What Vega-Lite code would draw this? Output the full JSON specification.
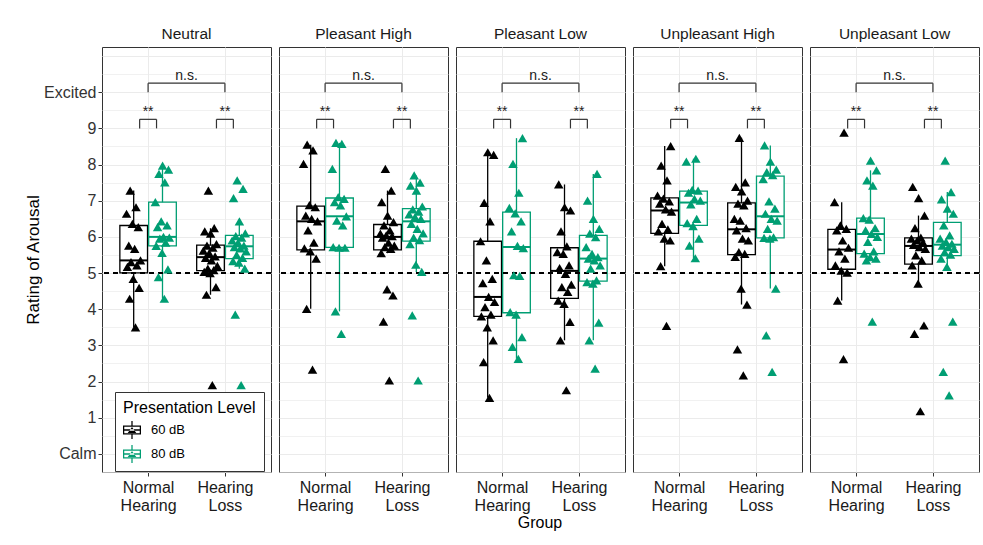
{
  "$schema": "https://vega.github.io/schema/vega-lite/v6.json",
  "padding": {"left": 24, "top": 26, "right": 3, "bottom": 5},
  "background": "white",
  "bounds": "flush",
  "data": {"values": [
    {"cond":"Neutral","group":"NH","level":"60 dB","rating":3.5},{"cond":"Neutral","group":"NH","level":"60 dB","rating":4.29},{"cond":"Neutral","group":"NH","level":"60 dB","rating":4.59},{"cond":"Neutral","group":"NH","level":"60 dB","rating":4.84},{"cond":"Neutral","group":"NH","level":"60 dB","rating":5.17},{"cond":"Neutral","group":"NH","level":"60 dB","rating":5.21},{"cond":"Neutral","group":"NH","level":"60 dB","rating":5.3},{"cond":"Neutral","group":"NH","level":"60 dB","rating":5.35},{"cond":"Neutral","group":"NH","level":"60 dB","rating":5.67},{"cond":"Neutral","group":"NH","level":"60 dB","rating":5.76},{"cond":"Neutral","group":"NH","level":"60 dB","rating":6.27},{"cond":"Neutral","group":"NH","level":"60 dB","rating":6.36},{"cond":"Neutral","group":"NH","level":"60 dB","rating":6.64},{"cond":"Neutral","group":"NH","level":"60 dB","rating":6.82},{"cond":"Neutral","group":"NH","level":"60 dB","rating":7.28},
    {"cond":"Neutral","group":"NH","level":"80 dB","rating":4.29},{"cond":"Neutral","group":"NH","level":"80 dB","rating":4.89},{"cond":"Neutral","group":"NH","level":"80 dB","rating":5.1},{"cond":"Neutral","group":"NH","level":"80 dB","rating":5.56},{"cond":"Neutral","group":"NH","level":"80 dB","rating":5.75},{"cond":"Neutral","group":"NH","level":"80 dB","rating":5.84},{"cond":"Neutral","group":"NH","level":"80 dB","rating":5.95},{"cond":"Neutral","group":"NH","level":"80 dB","rating":5.98},{"cond":"Neutral","group":"NH","level":"80 dB","rating":6.0},{"cond":"Neutral","group":"NH","level":"80 dB","rating":6.27},{"cond":"Neutral","group":"NH","level":"80 dB","rating":6.32},{"cond":"Neutral","group":"NH","level":"80 dB","rating":6.43},{"cond":"Neutral","group":"NH","level":"80 dB","rating":6.96},{"cond":"Neutral","group":"NH","level":"80 dB","rating":7.51},{"cond":"Neutral","group":"NH","level":"80 dB","rating":7.74},{"cond":"Neutral","group":"NH","level":"80 dB","rating":7.86},{"cond":"Neutral","group":"NH","level":"80 dB","rating":7.97},
    {"cond":"Neutral","group":"HL","level":"60 dB","rating":1.9},{"cond":"Neutral","group":"HL","level":"60 dB","rating":4.4},{"cond":"Neutral","group":"HL","level":"60 dB","rating":4.61},{"cond":"Neutral","group":"HL","level":"60 dB","rating":5.0},{"cond":"Neutral","group":"HL","level":"60 dB","rating":5.03},{"cond":"Neutral","group":"HL","level":"60 dB","rating":5.08},{"cond":"Neutral","group":"HL","level":"60 dB","rating":5.12},{"cond":"Neutral","group":"HL","level":"60 dB","rating":5.2},{"cond":"Neutral","group":"HL","level":"60 dB","rating":5.35},{"cond":"Neutral","group":"HL","level":"60 dB","rating":5.42},{"cond":"Neutral","group":"HL","level":"60 dB","rating":5.46},{"cond":"Neutral","group":"HL","level":"60 dB","rating":5.55},{"cond":"Neutral","group":"HL","level":"60 dB","rating":5.62},{"cond":"Neutral","group":"HL","level":"60 dB","rating":5.7},{"cond":"Neutral","group":"HL","level":"60 dB","rating":5.76},{"cond":"Neutral","group":"HL","level":"60 dB","rating":5.8},{"cond":"Neutral","group":"HL","level":"60 dB","rating":6.09},{"cond":"Neutral","group":"HL","level":"60 dB","rating":6.15},{"cond":"Neutral","group":"HL","level":"60 dB","rating":6.24},{"cond":"Neutral","group":"HL","level":"60 dB","rating":7.28},
    {"cond":"Neutral","group":"HL","level":"80 dB","rating":1.9},{"cond":"Neutral","group":"HL","level":"80 dB","rating":3.85},{"cond":"Neutral","group":"HL","level":"80 dB","rating":5.12},{"cond":"Neutral","group":"HL","level":"80 dB","rating":5.29},{"cond":"Neutral","group":"HL","level":"80 dB","rating":5.33},{"cond":"Neutral","group":"HL","level":"80 dB","rating":5.42},{"cond":"Neutral","group":"HL","level":"80 dB","rating":5.5},{"cond":"Neutral","group":"HL","level":"80 dB","rating":5.6},{"cond":"Neutral","group":"HL","level":"80 dB","rating":5.68},{"cond":"Neutral","group":"HL","level":"80 dB","rating":5.72},{"cond":"Neutral","group":"HL","level":"80 dB","rating":5.76},{"cond":"Neutral","group":"HL","level":"80 dB","rating":5.84},{"cond":"Neutral","group":"HL","level":"80 dB","rating":5.9},{"cond":"Neutral","group":"HL","level":"80 dB","rating":5.98},{"cond":"Neutral","group":"HL","level":"80 dB","rating":6.02},{"cond":"Neutral","group":"HL","level":"80 dB","rating":6.1},{"cond":"Neutral","group":"HL","level":"80 dB","rating":6.43},{"cond":"Neutral","group":"HL","level":"80 dB","rating":7.07},{"cond":"Neutral","group":"HL","level":"80 dB","rating":7.33},{"cond":"Neutral","group":"HL","level":"80 dB","rating":7.56},

    {"cond":"Pleasant High","group":"NH","level":"60 dB","rating":2.33},{"cond":"Pleasant High","group":"NH","level":"60 dB","rating":4.01},{"cond":"Pleasant High","group":"NH","level":"60 dB","rating":5.4},{"cond":"Pleasant High","group":"NH","level":"60 dB","rating":5.6},{"cond":"Pleasant High","group":"NH","level":"60 dB","rating":5.68},{"cond":"Pleasant High","group":"NH","level":"60 dB","rating":5.84},{"cond":"Pleasant High","group":"NH","level":"60 dB","rating":6.18},{"cond":"Pleasant High","group":"NH","level":"60 dB","rating":6.43},{"cond":"Pleasant High","group":"NH","level":"60 dB","rating":6.5},{"cond":"Pleasant High","group":"NH","level":"60 dB","rating":6.59},{"cond":"Pleasant High","group":"NH","level":"60 dB","rating":6.82},{"cond":"Pleasant High","group":"NH","level":"60 dB","rating":6.88},{"cond":"Pleasant High","group":"NH","level":"60 dB","rating":8.02},{"cond":"Pleasant High","group":"NH","level":"60 dB","rating":8.39},{"cond":"Pleasant High","group":"NH","level":"60 dB","rating":8.55},
    {"cond":"Pleasant High","group":"NH","level":"80 dB","rating":3.32},{"cond":"Pleasant High","group":"NH","level":"80 dB","rating":3.94},{"cond":"Pleasant High","group":"NH","level":"80 dB","rating":5.7},{"cond":"Pleasant High","group":"NH","level":"80 dB","rating":5.7},{"cond":"Pleasant High","group":"NH","level":"80 dB","rating":5.72},{"cond":"Pleasant High","group":"NH","level":"80 dB","rating":6.32},{"cond":"Pleasant High","group":"NH","level":"80 dB","rating":6.45},{"cond":"Pleasant High","group":"NH","level":"80 dB","rating":6.57},{"cond":"Pleasant High","group":"NH","level":"80 dB","rating":6.87},{"cond":"Pleasant High","group":"NH","level":"80 dB","rating":6.96},{"cond":"Pleasant High","group":"NH","level":"80 dB","rating":7.05},{"cond":"Pleasant High","group":"NH","level":"80 dB","rating":7.1},{"cond":"Pleasant High","group":"NH","level":"80 dB","rating":7.88},{"cond":"Pleasant High","group":"NH","level":"80 dB","rating":8.57},{"cond":"Pleasant High","group":"NH","level":"80 dB","rating":8.6},
    {"cond":"Pleasant High","group":"HL","level":"60 dB","rating":2.03},{"cond":"Pleasant High","group":"HL","level":"60 dB","rating":3.66},{"cond":"Pleasant High","group":"HL","level":"60 dB","rating":4.38},{"cond":"Pleasant High","group":"HL","level":"60 dB","rating":4.55},{"cond":"Pleasant High","group":"HL","level":"60 dB","rating":5.55},{"cond":"Pleasant High","group":"HL","level":"60 dB","rating":5.67},{"cond":"Pleasant High","group":"HL","level":"60 dB","rating":5.72},{"cond":"Pleasant High","group":"HL","level":"60 dB","rating":5.76},{"cond":"Pleasant High","group":"HL","level":"60 dB","rating":5.84},{"cond":"Pleasant High","group":"HL","level":"60 dB","rating":5.98},{"cond":"Pleasant High","group":"HL","level":"60 dB","rating":6.02},{"cond":"Pleasant High","group":"HL","level":"60 dB","rating":6.04},{"cond":"Pleasant High","group":"HL","level":"60 dB","rating":6.09},{"cond":"Pleasant High","group":"HL","level":"60 dB","rating":6.18},{"cond":"Pleasant High","group":"HL","level":"60 dB","rating":6.32},{"cond":"Pleasant High","group":"HL","level":"60 dB","rating":6.41},{"cond":"Pleasant High","group":"HL","level":"60 dB","rating":6.59},{"cond":"Pleasant High","group":"HL","level":"60 dB","rating":6.96},{"cond":"Pleasant High","group":"HL","level":"60 dB","rating":7.28},{"cond":"Pleasant High","group":"HL","level":"60 dB","rating":7.88},
    {"cond":"Pleasant High","group":"HL","level":"80 dB","rating":2.03},{"cond":"Pleasant High","group":"HL","level":"80 dB","rating":3.83},{"cond":"Pleasant High","group":"HL","level":"80 dB","rating":5.03},{"cond":"Pleasant High","group":"HL","level":"80 dB","rating":5.23},{"cond":"Pleasant High","group":"HL","level":"80 dB","rating":5.8},{"cond":"Pleasant High","group":"HL","level":"80 dB","rating":5.91},{"cond":"Pleasant High","group":"HL","level":"80 dB","rating":5.98},{"cond":"Pleasant High","group":"HL","level":"80 dB","rating":6.1},{"cond":"Pleasant High","group":"HL","level":"80 dB","rating":6.22},{"cond":"Pleasant High","group":"HL","level":"80 dB","rating":6.36},{"cond":"Pleasant High","group":"HL","level":"80 dB","rating":6.5},{"cond":"Pleasant High","group":"HL","level":"80 dB","rating":6.55},{"cond":"Pleasant High","group":"HL","level":"80 dB","rating":6.62},{"cond":"Pleasant High","group":"HL","level":"80 dB","rating":6.7},{"cond":"Pleasant High","group":"HL","level":"80 dB","rating":6.76},{"cond":"Pleasant High","group":"HL","level":"80 dB","rating":6.84},{"cond":"Pleasant High","group":"HL","level":"80 dB","rating":7.28},{"cond":"Pleasant High","group":"HL","level":"80 dB","rating":7.42},{"cond":"Pleasant High","group":"HL","level":"80 dB","rating":7.5},{"cond":"Pleasant High","group":"HL","level":"80 dB","rating":7.7},

    {"cond":"Pleasant Low","group":"NH","level":"60 dB","rating":1.55},{"cond":"Pleasant Low","group":"NH","level":"60 dB","rating":2.54},{"cond":"Pleasant Low","group":"NH","level":"60 dB","rating":3.14},{"cond":"Pleasant Low","group":"NH","level":"60 dB","rating":3.5},{"cond":"Pleasant Low","group":"NH","level":"60 dB","rating":3.8},{"cond":"Pleasant Low","group":"NH","level":"60 dB","rating":3.85},{"cond":"Pleasant Low","group":"NH","level":"60 dB","rating":4.06},{"cond":"Pleasant Low","group":"NH","level":"60 dB","rating":4.2},{"cond":"Pleasant Low","group":"NH","level":"60 dB","rating":4.34},{"cond":"Pleasant Low","group":"NH","level":"60 dB","rating":4.72},{"cond":"Pleasant Low","group":"NH","level":"60 dB","rating":4.84},{"cond":"Pleasant Low","group":"NH","level":"60 dB","rating":5.35},{"cond":"Pleasant Low","group":"NH","level":"60 dB","rating":5.88},{"cond":"Pleasant Low","group":"NH","level":"60 dB","rating":6.43},{"cond":"Pleasant Low","group":"NH","level":"60 dB","rating":6.94},{"cond":"Pleasant Low","group":"NH","level":"60 dB","rating":8.27},{"cond":"Pleasant Low","group":"NH","level":"60 dB","rating":8.34},
    {"cond":"Pleasant Low","group":"NH","level":"80 dB","rating":2.63},{"cond":"Pleasant Low","group":"NH","level":"80 dB","rating":2.96},{"cond":"Pleasant Low","group":"NH","level":"80 dB","rating":3.23},{"cond":"Pleasant Low","group":"NH","level":"80 dB","rating":3.85},{"cond":"Pleasant Low","group":"NH","level":"80 dB","rating":3.92},{"cond":"Pleasant Low","group":"NH","level":"80 dB","rating":4.92},{"cond":"Pleasant Low","group":"NH","level":"80 dB","rating":4.94},{"cond":"Pleasant Low","group":"NH","level":"80 dB","rating":5.69},{"cond":"Pleasant Low","group":"NH","level":"80 dB","rating":5.75},{"cond":"Pleasant Low","group":"NH","level":"80 dB","rating":6.15},{"cond":"Pleasant Low","group":"NH","level":"80 dB","rating":6.43},{"cond":"Pleasant Low","group":"NH","level":"80 dB","rating":6.65},{"cond":"Pleasant Low","group":"NH","level":"80 dB","rating":6.8},{"cond":"Pleasant Low","group":"NH","level":"80 dB","rating":7.22},{"cond":"Pleasant Low","group":"NH","level":"80 dB","rating":8.02},{"cond":"Pleasant Low","group":"NH","level":"80 dB","rating":8.73},
    {"cond":"Pleasant Low","group":"HL","level":"60 dB","rating":1.76},{"cond":"Pleasant Low","group":"HL","level":"60 dB","rating":3.14},{"cond":"Pleasant Low","group":"HL","level":"60 dB","rating":3.65},{"cond":"Pleasant Low","group":"HL","level":"60 dB","rating":4.15},{"cond":"Pleasant Low","group":"HL","level":"60 dB","rating":4.24},{"cond":"Pleasant Low","group":"HL","level":"60 dB","rating":4.48},{"cond":"Pleasant Low","group":"HL","level":"60 dB","rating":4.61},{"cond":"Pleasant Low","group":"HL","level":"60 dB","rating":4.68},{"cond":"Pleasant Low","group":"HL","level":"60 dB","rating":4.98},{"cond":"Pleasant Low","group":"HL","level":"60 dB","rating":5.14},{"cond":"Pleasant Low","group":"HL","level":"60 dB","rating":5.21},{"cond":"Pleasant Low","group":"HL","level":"60 dB","rating":5.53},{"cond":"Pleasant Low","group":"HL","level":"60 dB","rating":5.58},{"cond":"Pleasant Low","group":"HL","level":"60 dB","rating":5.74},{"cond":"Pleasant Low","group":"HL","level":"60 dB","rating":6.15},{"cond":"Pleasant Low","group":"HL","level":"60 dB","rating":6.73},{"cond":"Pleasant Low","group":"HL","level":"60 dB","rating":6.82},{"cond":"Pleasant Low","group":"HL","level":"60 dB","rating":7.45},
    {"cond":"Pleasant Low","group":"HL","level":"80 dB","rating":2.36},{"cond":"Pleasant Low","group":"HL","level":"80 dB","rating":3.14},{"cond":"Pleasant Low","group":"HL","level":"80 dB","rating":3.63},{"cond":"Pleasant Low","group":"HL","level":"80 dB","rating":4.71},{"cond":"Pleasant Low","group":"HL","level":"80 dB","rating":4.75},{"cond":"Pleasant Low","group":"HL","level":"80 dB","rating":4.8},{"cond":"Pleasant Low","group":"HL","level":"80 dB","rating":5.12},{"cond":"Pleasant Low","group":"HL","level":"80 dB","rating":5.21},{"cond":"Pleasant Low","group":"HL","level":"80 dB","rating":5.35},{"cond":"Pleasant Low","group":"HL","level":"80 dB","rating":5.4},{"cond":"Pleasant Low","group":"HL","level":"80 dB","rating":5.44},{"cond":"Pleasant Low","group":"HL","level":"80 dB","rating":5.53},{"cond":"Pleasant Low","group":"HL","level":"80 dB","rating":5.72},{"cond":"Pleasant Low","group":"HL","level":"80 dB","rating":5.99},{"cond":"Pleasant Low","group":"HL","level":"80 dB","rating":6.09},{"cond":"Pleasant Low","group":"HL","level":"80 dB","rating":6.22},{"cond":"Pleasant Low","group":"HL","level":"80 dB","rating":6.5},{"cond":"Pleasant Low","group":"HL","level":"80 dB","rating":7.0},{"cond":"Pleasant Low","group":"HL","level":"80 dB","rating":7.74},

    {"cond":"Unpleasant High","group":"NH","level":"60 dB","rating":3.54},{"cond":"Unpleasant High","group":"NH","level":"60 dB","rating":5.19},{"cond":"Unpleasant High","group":"NH","level":"60 dB","rating":5.9},{"cond":"Unpleasant High","group":"NH","level":"60 dB","rating":5.95},{"cond":"Unpleasant High","group":"NH","level":"60 dB","rating":6.15},{"cond":"Unpleasant High","group":"NH","level":"60 dB","rating":6.21},{"cond":"Unpleasant High","group":"NH","level":"60 dB","rating":6.36},{"cond":"Unpleasant High","group":"NH","level":"60 dB","rating":6.7},{"cond":"Unpleasant High","group":"NH","level":"60 dB","rating":6.76},{"cond":"Unpleasant High","group":"NH","level":"60 dB","rating":6.92},{"cond":"Unpleasant High","group":"NH","level":"60 dB","rating":6.98},{"cond":"Unpleasant High","group":"NH","level":"60 dB","rating":7.06},{"cond":"Unpleasant High","group":"NH","level":"60 dB","rating":7.14},{"cond":"Unpleasant High","group":"NH","level":"60 dB","rating":7.56},{"cond":"Unpleasant High","group":"NH","level":"60 dB","rating":7.97},{"cond":"Unpleasant High","group":"NH","level":"60 dB","rating":8.51},
    {"cond":"Unpleasant High","group":"NH","level":"80 dB","rating":5.41},{"cond":"Unpleasant High","group":"NH","level":"80 dB","rating":5.76},{"cond":"Unpleasant High","group":"NH","level":"80 dB","rating":5.95},{"cond":"Unpleasant High","group":"NH","level":"80 dB","rating":6.3},{"cond":"Unpleasant High","group":"NH","level":"80 dB","rating":6.38},{"cond":"Unpleasant High","group":"NH","level":"80 dB","rating":6.5},{"cond":"Unpleasant High","group":"NH","level":"80 dB","rating":6.9},{"cond":"Unpleasant High","group":"NH","level":"80 dB","rating":7.0},{"cond":"Unpleasant High","group":"NH","level":"80 dB","rating":7.05},{"cond":"Unpleasant High","group":"NH","level":"80 dB","rating":7.22},{"cond":"Unpleasant High","group":"NH","level":"80 dB","rating":7.28},{"cond":"Unpleasant High","group":"NH","level":"80 dB","rating":7.3},{"cond":"Unpleasant High","group":"NH","level":"80 dB","rating":8.08},{"cond":"Unpleasant High","group":"NH","level":"80 dB","rating":8.16},
    {"cond":"Unpleasant High","group":"HL","level":"60 dB","rating":2.17},{"cond":"Unpleasant High","group":"HL","level":"60 dB","rating":2.89},{"cond":"Unpleasant High","group":"HL","level":"60 dB","rating":4.13},{"cond":"Unpleasant High","group":"HL","level":"60 dB","rating":4.57},{"cond":"Unpleasant High","group":"HL","level":"60 dB","rating":5.45},{"cond":"Unpleasant High","group":"HL","level":"60 dB","rating":5.53},{"cond":"Unpleasant High","group":"HL","level":"60 dB","rating":5.58},{"cond":"Unpleasant High","group":"HL","level":"60 dB","rating":5.9},{"cond":"Unpleasant High","group":"HL","level":"60 dB","rating":5.95},{"cond":"Unpleasant High","group":"HL","level":"60 dB","rating":6.18},{"cond":"Unpleasant High","group":"HL","level":"60 dB","rating":6.24},{"cond":"Unpleasant High","group":"HL","level":"60 dB","rating":6.45},{"cond":"Unpleasant High","group":"HL","level":"60 dB","rating":6.5},{"cond":"Unpleasant High","group":"HL","level":"60 dB","rating":6.87},{"cond":"Unpleasant High","group":"HL","level":"60 dB","rating":6.92},{"cond":"Unpleasant High","group":"HL","level":"60 dB","rating":7.0},{"cond":"Unpleasant High","group":"HL","level":"60 dB","rating":7.26},{"cond":"Unpleasant High","group":"HL","level":"60 dB","rating":7.38},{"cond":"Unpleasant High","group":"HL","level":"60 dB","rating":7.51},{"cond":"Unpleasant High","group":"HL","level":"60 dB","rating":8.74},
    {"cond":"Unpleasant High","group":"HL","level":"80 dB","rating":2.27},{"cond":"Unpleasant High","group":"HL","level":"80 dB","rating":3.28},{"cond":"Unpleasant High","group":"HL","level":"80 dB","rating":4.57},{"cond":"Unpleasant High","group":"HL","level":"80 dB","rating":5.95},{"cond":"Unpleasant High","group":"HL","level":"80 dB","rating":5.97},{"cond":"Unpleasant High","group":"HL","level":"80 dB","rating":5.99},{"cond":"Unpleasant High","group":"HL","level":"80 dB","rating":6.22},{"cond":"Unpleasant High","group":"HL","level":"80 dB","rating":6.45},{"cond":"Unpleasant High","group":"HL","level":"80 dB","rating":6.5},{"cond":"Unpleasant High","group":"HL","level":"80 dB","rating":6.64},{"cond":"Unpleasant High","group":"HL","level":"80 dB","rating":6.78},{"cond":"Unpleasant High","group":"HL","level":"80 dB","rating":6.98},{"cond":"Unpleasant High","group":"HL","level":"80 dB","rating":7.6},{"cond":"Unpleasant High","group":"HL","level":"80 dB","rating":7.71},{"cond":"Unpleasant High","group":"HL","level":"80 dB","rating":7.79},{"cond":"Unpleasant High","group":"HL","level":"80 dB","rating":7.86},{"cond":"Unpleasant High","group":"HL","level":"80 dB","rating":8.08},{"cond":"Unpleasant High","group":"HL","level":"80 dB","rating":8.53},

    {"cond":"Unpleasant Low","group":"NH","level":"60 dB","rating":2.62},{"cond":"Unpleasant Low","group":"NH","level":"60 dB","rating":4.24},{"cond":"Unpleasant Low","group":"NH","level":"60 dB","rating":5.01},{"cond":"Unpleasant Low","group":"NH","level":"60 dB","rating":5.07},{"cond":"Unpleasant Low","group":"NH","level":"60 dB","rating":5.21},{"cond":"Unpleasant Low","group":"NH","level":"60 dB","rating":5.4},{"cond":"Unpleasant Low","group":"NH","level":"60 dB","rating":5.6},{"cond":"Unpleasant Low","group":"NH","level":"60 dB","rating":5.7},{"cond":"Unpleasant Low","group":"NH","level":"60 dB","rating":5.9},{"cond":"Unpleasant Low","group":"NH","level":"60 dB","rating":6.18},{"cond":"Unpleasant Low","group":"NH","level":"60 dB","rating":6.22},{"cond":"Unpleasant Low","group":"NH","level":"60 dB","rating":6.32},{"cond":"Unpleasant Low","group":"NH","level":"60 dB","rating":6.96},{"cond":"Unpleasant Low","group":"NH","level":"60 dB","rating":8.88},
    {"cond":"Unpleasant Low","group":"NH","level":"80 dB","rating":3.66},{"cond":"Unpleasant Low","group":"NH","level":"80 dB","rating":5.35},{"cond":"Unpleasant Low","group":"NH","level":"80 dB","rating":5.4},{"cond":"Unpleasant Low","group":"NH","level":"80 dB","rating":5.44},{"cond":"Unpleasant Low","group":"NH","level":"80 dB","rating":5.54},{"cond":"Unpleasant Low","group":"NH","level":"80 dB","rating":5.6},{"cond":"Unpleasant Low","group":"NH","level":"80 dB","rating":5.86},{"cond":"Unpleasant Low","group":"NH","level":"80 dB","rating":6.0},{"cond":"Unpleasant Low","group":"NH","level":"80 dB","rating":6.08},{"cond":"Unpleasant Low","group":"NH","level":"80 dB","rating":6.18},{"cond":"Unpleasant Low","group":"NH","level":"80 dB","rating":6.24},{"cond":"Unpleasant Low","group":"NH","level":"80 dB","rating":6.48},{"cond":"Unpleasant Low","group":"NH","level":"80 dB","rating":6.52},{"cond":"Unpleasant Low","group":"NH","level":"80 dB","rating":7.42},{"cond":"Unpleasant Low","group":"NH","level":"80 dB","rating":7.56},{"cond":"Unpleasant Low","group":"NH","level":"80 dB","rating":7.84},{"cond":"Unpleasant Low","group":"NH","level":"80 dB","rating":8.11},
    {"cond":"Unpleasant Low","group":"HL","level":"60 dB","rating":1.18},{"cond":"Unpleasant Low","group":"HL","level":"60 dB","rating":3.32},{"cond":"Unpleasant Low","group":"HL","level":"60 dB","rating":3.55},{"cond":"Unpleasant Low","group":"HL","level":"60 dB","rating":4.71},{"cond":"Unpleasant Low","group":"HL","level":"60 dB","rating":5.21},{"cond":"Unpleasant Low","group":"HL","level":"60 dB","rating":5.35},{"cond":"Unpleasant Low","group":"HL","level":"60 dB","rating":5.49},{"cond":"Unpleasant Low","group":"HL","level":"60 dB","rating":5.67},{"cond":"Unpleasant Low","group":"HL","level":"60 dB","rating":5.72},{"cond":"Unpleasant Low","group":"HL","level":"60 dB","rating":5.78},{"cond":"Unpleasant Low","group":"HL","level":"60 dB","rating":5.84},{"cond":"Unpleasant Low","group":"HL","level":"60 dB","rating":5.9},{"cond":"Unpleasant Low","group":"HL","level":"60 dB","rating":5.95},{"cond":"Unpleasant Low","group":"HL","level":"60 dB","rating":5.98},{"cond":"Unpleasant Low","group":"HL","level":"60 dB","rating":6.24},{"cond":"Unpleasant Low","group":"HL","level":"60 dB","rating":6.59},{"cond":"Unpleasant Low","group":"HL","level":"60 dB","rating":7.07},{"cond":"Unpleasant Low","group":"HL","level":"60 dB","rating":7.38},
    {"cond":"Unpleasant Low","group":"HL","level":"80 dB","rating":1.62},{"cond":"Unpleasant Low","group":"HL","level":"80 dB","rating":2.27},{"cond":"Unpleasant Low","group":"HL","level":"80 dB","rating":3.66},{"cond":"Unpleasant Low","group":"HL","level":"80 dB","rating":5.17},{"cond":"Unpleasant Low","group":"HL","level":"80 dB","rating":5.4},{"cond":"Unpleasant Low","group":"HL","level":"80 dB","rating":5.51},{"cond":"Unpleasant Low","group":"HL","level":"80 dB","rating":5.58},{"cond":"Unpleasant Low","group":"HL","level":"80 dB","rating":5.67},{"cond":"Unpleasant Low","group":"HL","level":"80 dB","rating":5.72},{"cond":"Unpleasant Low","group":"HL","level":"80 dB","rating":5.76},{"cond":"Unpleasant Low","group":"HL","level":"80 dB","rating":5.81},{"cond":"Unpleasant Low","group":"HL","level":"80 dB","rating":5.86},{"cond":"Unpleasant Low","group":"HL","level":"80 dB","rating":5.95},{"cond":"Unpleasant Low","group":"HL","level":"80 dB","rating":6.04},{"cond":"Unpleasant Low","group":"HL","level":"80 dB","rating":6.32},{"cond":"Unpleasant Low","group":"HL","level":"80 dB","rating":6.64},{"cond":"Unpleasant Low","group":"HL","level":"80 dB","rating":6.78},{"cond":"Unpleasant Low","group":"HL","level":"80 dB","rating":7.04},{"cond":"Unpleasant Low","group":"HL","level":"80 dB","rating":7.24},{"cond":"Unpleasant Low","group":"HL","level":"80 dB","rating":8.11},

    {"cond":"Neutral","kind":"bracket","x1":0.89,"x2":1.11,"ytop":9.25,"yend":9.0,"label":"**"},
    {"cond":"Neutral","kind":"bracket","x1":1.89,"x2":2.11,"ytop":9.25,"yend":9.0,"label":"**"},
    {"cond":"Neutral","kind":"bracket","x1":1,"x2":2,"ytop":10.25,"yend":10.0,"label":"n.s."},
    {"cond":"Pleasant High","kind":"bracket","x1":0.89,"x2":1.11,"ytop":9.25,"yend":9.0,"label":"**"},
    {"cond":"Pleasant High","kind":"bracket","x1":1.89,"x2":2.11,"ytop":9.25,"yend":9.0,"label":"**"},
    {"cond":"Pleasant High","kind":"bracket","x1":1,"x2":2,"ytop":10.25,"yend":10.0,"label":"n.s."},
    {"cond":"Pleasant Low","kind":"bracket","x1":0.89,"x2":1.11,"ytop":9.25,"yend":9.0,"label":"**"},
    {"cond":"Pleasant Low","kind":"bracket","x1":1.89,"x2":2.11,"ytop":9.25,"yend":9.0,"label":"**"},
    {"cond":"Pleasant Low","kind":"bracket","x1":1,"x2":2,"ytop":10.25,"yend":10.0,"label":"n.s."},
    {"cond":"Unpleasant High","kind":"bracket","x1":0.89,"x2":1.11,"ytop":9.25,"yend":9.0,"label":"**"},
    {"cond":"Unpleasant High","kind":"bracket","x1":1.89,"x2":2.11,"ytop":9.25,"yend":9.0,"label":"**"},
    {"cond":"Unpleasant High","kind":"bracket","x1":1,"x2":2,"ytop":10.25,"yend":10.0,"label":"n.s."},
    {"cond":"Unpleasant Low","kind":"bracket","x1":0.89,"x2":1.11,"ytop":9.25,"yend":9.0,"label":"**"},
    {"cond":"Unpleasant Low","kind":"bracket","x1":1.89,"x2":2.11,"ytop":9.25,"yend":9.0,"label":"**"},
    {"cond":"Unpleasant Low","kind":"bracket","x1":1,"x2":2,"ytop":10.25,"yend":10.0,"label":"n.s."}
  ]},
  "transform": [
    {"calculate": "(datum.group === 'NH' ? 1 : 2) + (datum.level === '60 dB' ? -0.1875 : 0.1875)", "as": "center"}
  ],
  "facet": {
    "column": {
      "field": "cond", "type": "nominal", "title": "Group",
      "sort": ["Neutral", "Pleasant High", "Pleasant Low", "Unpleasant High", "Unpleasant Low"],
      "header": {
        "labelOrient": "top", "titleOrient": "bottom",
        "labelFont": "Liberation Sans", "labelFontSize": 15.5, "labelColor": "#1a1a1a", "labelPadding": 5,
        "titleFont": "Liberation Sans", "titleFontSize": 16, "titleFontWeight": "normal", "titleColor": "#000000", "titlePadding": -8
      }
    }
  },
  "spacing": 8,
  "spec": {
    "width": 169,
    "height": 425,
    "layer": [
      {
        "transform": [
          {"filter": "!datum.kind"},
          {"joinaggregate": [{"op": "q1", "field": "rating", "as": "q1"}, {"op": "q3", "field": "rating", "as": "q3"}], "groupby": ["cond", "group", "level"]},
          {"filter": "datum.rating >= datum.q1 - 1.5 * (datum.q3 - datum.q1) && datum.rating <= datum.q3 + 1.5 * (datum.q3 - datum.q1)"},
          {"aggregate": [{"op": "min", "field": "rating", "as": "lo"}, {"op": "max", "field": "rating", "as": "hi"}], "groupby": ["cond", "group", "level", "center"]}
        ],
        "mark": {"type": "rule", "strokeWidth": 1.3},
        "encoding": {
          "x": {"field": "center", "type": "quantitative", "title": null,
                "scale": {"domain": [0.4, 2.6], "nice": false, "zero": false},
                "axis": {"values": [1, 2], "labelExpr": "datum.value == 1 ? ['Normal', 'Hearing'] : ['Hearing', 'Loss']"}},
          "y": {"field": "lo", "type": "quantitative", "title": "Rating of Arousal",
                "scale": {"domain": [-0.5, 11.25], "nice": false, "zero": false}},
          "y2": {"field": "hi"},
          "color": {"field": "level", "type": "nominal", "scale": {"domain": ["60 dB", "80 dB"], "range": ["#000000", "#009E73"]}}
        }
      },
      {
        "transform": [
          {"filter": "!datum.kind"},
          {"aggregate": [{"op": "q1", "field": "rating", "as": "q1"}, {"op": "q3", "field": "rating", "as": "q3"}], "groupby": ["cond", "group", "level", "center"]},
          {"calculate": "datum.center - 0.18", "as": "xl"},
          {"calculate": "datum.center + 0.18", "as": "xr"}
        ],
        "mark": {"type": "rect", "filled": false, "fill": "white", "strokeWidth": 1.3},
        "encoding": {
          "x": {"field": "xl", "type": "quantitative", "title": null, "scale": {"domain": [0.4, 2.6], "nice": false, "zero": false}},
          "x2": {"field": "xr"},
          "y": {"field": "q1", "type": "quantitative", "title": "Rating of Arousal", "scale": {"domain": [-0.5, 11.25], "nice": false, "zero": false}},
          "y2": {"field": "q3"},
          "color": {"field": "level", "type": "nominal", "scale": {"domain": ["60 dB", "80 dB"], "range": ["#000000", "#009E73"]}}
        }
      },
      {
        "transform": [
          {"filter": "!datum.kind"},
          {"aggregate": [{"op": "median", "field": "rating", "as": "med"}], "groupby": ["cond", "group", "level", "center"]},
          {"calculate": "datum.center - 0.18", "as": "xl"},
          {"calculate": "datum.center + 0.18", "as": "xr"}
        ],
        "mark": {"type": "rule", "strokeWidth": 2},
        "encoding": {
          "x": {"field": "xl", "type": "quantitative", "title": null, "scale": {"domain": [0.4, 2.6], "nice": false, "zero": false}},
          "x2": {"field": "xr"},
          "y": {"field": "med", "type": "quantitative", "title": "Rating of Arousal", "scale": {"domain": [-0.5, 11.25], "nice": false, "zero": false}},
          "color": {"field": "level", "type": "nominal", "scale": {"domain": ["60 dB", "80 dB"], "range": ["#000000", "#009E73"]}}
        }
      },
      {
        "mark": {"type": "rule", "strokeDash": [5, 4], "strokeWidth": 1.1, "color": "#000000"},
        "encoding": {
          "y": {"datum": 5, "type": "quantitative", "title": "Rating of Arousal", "scale": {"domain": [-0.5, 11.25], "nice": false, "zero": false}}
        }
      },
      {
        "transform": [
          {"filter": "!datum.kind"},
          {"window": [{"op": "row_number", "as": "rn"}], "groupby": ["cond", "group", "level"]},
          {"calculate": "datum.center + (((datum.rn * 0.618034) % 1) - 0.5) * 0.2", "as": "jx"}
        ],
        "mark": {"type": "point", "shape": "triangle-up", "filled": true, "size": 90, "opacity": 1},
        "encoding": {
          "x": {"field": "jx", "type": "quantitative", "title": null, "scale": {"domain": [0.4, 2.6], "nice": false, "zero": false}},
          "y": {"field": "rating", "type": "quantitative", "title": "Rating of Arousal", "scale": {"domain": [-0.5, 11.25], "nice": false, "zero": false}},
          "color": {
            "field": "level", "type": "nominal",
            "scale": {"domain": ["60 dB", "80 dB"], "range": ["#000000", "#009E73"]},
            "legend": {
              "title": "Presentation Level", "orient": "none", "legendX": 13, "legendY": 345, "direction": "vertical",
              "titleFont": "Liberation Sans", "titleFontSize": 16, "titleFontWeight": "normal", "titleColor": "#000000",
              "labelFont": "Liberation Sans", "labelFontSize": 13, "labelColor": "#000000",
              "symbolType": "M-1,-0.5H1V0.5H-1Z M-0.86,-0.36V0.36H0.86V-0.36Z M-0.07,-1H0.07V-0.5H-0.07Z M-0.07,0.5H0.07V1H-0.07Z M-0.86,-0.07H0.86V0.07H-0.86Z M-0.48,0.34L0.48,0.34L0,-0.34Z",
              "symbolSize": 324, "symbolStrokeWidth": 0, "symbolOpacity": 1,
              "strokeColor": "#333333", "fillColor": "white", "padding": 8, "rowPadding": 6, "titlePadding": 5, "labelOffset": 10,
              "encode": {"symbols": {"update": {"fill": {"signal": "scale('color', datum.value)"}, "stroke": {"value": "transparent"}, "strokeWidth": {"value": 0}, "opacity": {"value": 1}, "size": {"value": 324}}}}
            }
          }
        }
      },
      {
        "transform": [{"filter": "datum.kind === 'bracket'"}],
        "mark": {"type": "rule", "color": "#333333", "strokeWidth": 1.2},
        "encoding": {
          "x": {"field": "x1", "type": "quantitative", "title": null, "scale": {"domain": [0.4, 2.6], "nice": false, "zero": false}},
          "x2": {"field": "x2"},
          "y": {"field": "ytop", "type": "quantitative", "title": "Rating of Arousal", "scale": {"domain": [-0.5, 11.25], "nice": false, "zero": false}}
        }
      },
      {
        "transform": [{"filter": "datum.kind === 'bracket'"}],
        "mark": {"type": "rule", "color": "#333333", "strokeWidth": 1.2},
        "encoding": {
          "x": {"field": "x1", "type": "quantitative", "title": null, "scale": {"domain": [0.4, 2.6], "nice": false, "zero": false}},
          "y": {"field": "ytop", "type": "quantitative", "title": "Rating of Arousal", "scale": {"domain": [-0.5, 11.25], "nice": false, "zero": false}},
          "y2": {"field": "yend"}
        }
      },
      {
        "transform": [{"filter": "datum.kind === 'bracket'"}],
        "mark": {"type": "rule", "color": "#333333", "strokeWidth": 1.2},
        "encoding": {
          "x": {"field": "x2", "type": "quantitative", "title": null, "scale": {"domain": [0.4, 2.6], "nice": false, "zero": false}},
          "y": {"field": "ytop", "type": "quantitative", "title": "Rating of Arousal", "scale": {"domain": [-0.5, 11.25], "nice": false, "zero": false}},
          "y2": {"field": "yend"}
        }
      },
      {
        "transform": [{"filter": "datum.kind === 'bracket'"}, {"calculate": "(datum.x1 + datum.x2) / 2", "as": "mid"}],
        "mark": {"type": "text", "baseline": "alphabetic", "dy": -3, "fontSize": 14, "font": "Liberation Sans", "color": "#1a1a1a"},
        "encoding": {
          "x": {"field": "mid", "type": "quantitative", "title": null, "scale": {"domain": [0.4, 2.6], "nice": false, "zero": false}},
          "y": {"field": "ytop", "type": "quantitative", "title": "Rating of Arousal", "scale": {"domain": [-0.5, 11.25], "nice": false, "zero": false}},
          "text": {"field": "label", "type": "nominal"}
        }
      }
    ]
  },
  "config": {
    "font": "Liberation Sans",
    "view": {"stroke": "#333333", "strokeWidth": 1},
    "axis": {
      "domain": false, "gridColor": "#ebebeb", "tickColor": "#333333", "tickSize": 4, "tickWidth": 1,
      "labelFont": "Liberation Sans", "titleFont": "Liberation Sans", "titleFontWeight": "normal", "titleColor": "#000000"
    },
    "axisX": {"labelFontSize": 16, "labelColor": "#1a1a1a", "labelLineHeight": 18, "labelPadding": 3, "labelAngle": 0},
    "axisY": {
      "labelFontSize": 16, "labelColor": "#333333", "labelPadding": 2, "labelOverlap": false, "titleFontSize": 17, "titlePadding": 1,
      "tickCount": 24,
      "labelExpr": "datum.value == 0 ? 'Calm' : (datum.value == 10 ? 'Excited' : ((datum.value % 1 == 0 && datum.value > 0 && datum.value < 10) ? ('' + datum.value) : ''))",
      "tickOpacity": {"condition": {"test": "datum.value % 1 != 0 || datum.value > 10 || datum.value < 0", "value": 0}, "value": 1},
      "gridWidth": {"condition": {"test": "datum.value % 1 != 0", "value": 0.7}, "value": 1.1}
    }
  }
}
